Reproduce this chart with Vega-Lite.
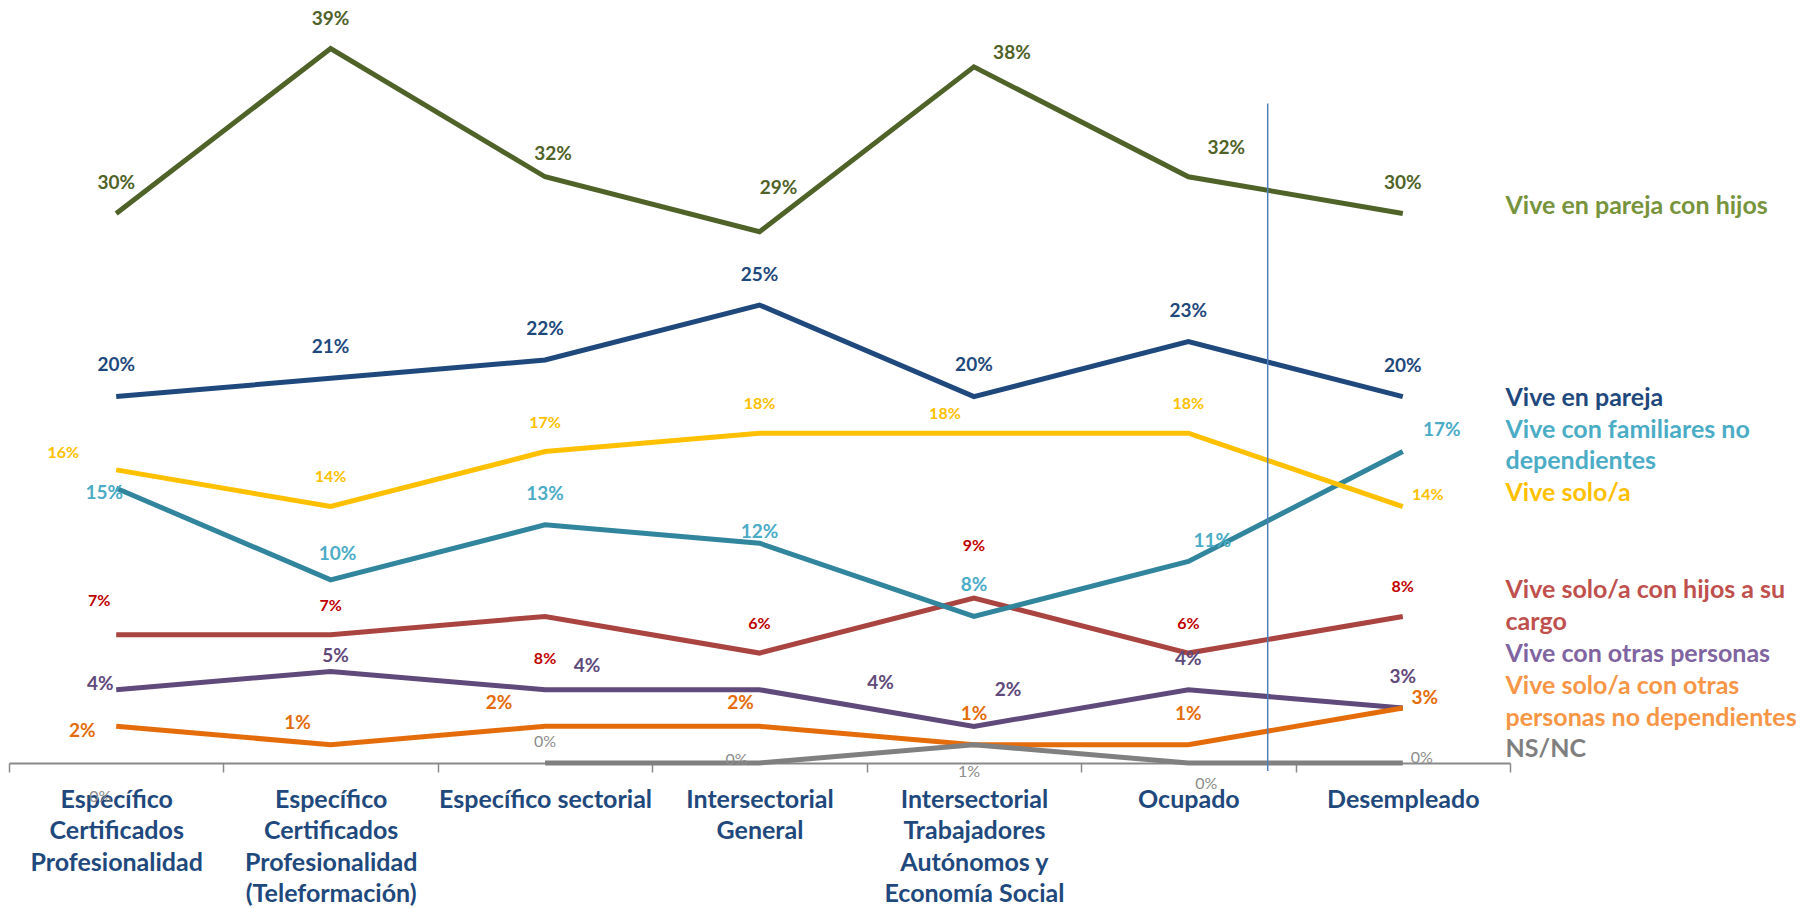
{
  "$schema": "https://vega.github.io/schema/vega-lite/v6.json",
  "width": 1501,
  "height": 763,
  "autosize": {"type": "none"},
  "padding": {"left": 9, "right": 303, "top": 0, "bottom": 145},
  "background": "white",
  "config": {"view": {"stroke": null}, "font": "Lato"},
  "datasets": {
    "datos": [
      {"categoria": "Específico Certificados Profesionalidad", "serie": "Vive en pareja con hijos", "valor": 0.30},
      {"categoria": "Específico Certificados Profesionalidad (Teleformación)", "serie": "Vive en pareja con hijos", "valor": 0.39},
      {"categoria": "Específico sectorial", "serie": "Vive en pareja con hijos", "valor": 0.32},
      {"categoria": "Intersectorial General", "serie": "Vive en pareja con hijos", "valor": 0.29},
      {"categoria": "Intersectorial Trabajadores Autónomos y Economía Social", "serie": "Vive en pareja con hijos", "valor": 0.38},
      {"categoria": "Ocupado", "serie": "Vive en pareja con hijos", "valor": 0.32},
      {"categoria": "Desempleado", "serie": "Vive en pareja con hijos", "valor": 0.30},

      {"categoria": "Específico Certificados Profesionalidad", "serie": "Vive en pareja", "valor": 0.20},
      {"categoria": "Específico Certificados Profesionalidad (Teleformación)", "serie": "Vive en pareja", "valor": 0.21},
      {"categoria": "Específico sectorial", "serie": "Vive en pareja", "valor": 0.22},
      {"categoria": "Intersectorial General", "serie": "Vive en pareja", "valor": 0.25},
      {"categoria": "Intersectorial Trabajadores Autónomos y Economía Social", "serie": "Vive en pareja", "valor": 0.20},
      {"categoria": "Ocupado", "serie": "Vive en pareja", "valor": 0.23},
      {"categoria": "Desempleado", "serie": "Vive en pareja", "valor": 0.20},

      {"categoria": "Específico Certificados Profesionalidad", "serie": "Vive solo/a con hijos a su cargo", "valor": 0.07},
      {"categoria": "Específico Certificados Profesionalidad (Teleformación)", "serie": "Vive solo/a con hijos a su cargo", "valor": 0.07},
      {"categoria": "Específico sectorial", "serie": "Vive solo/a con hijos a su cargo", "valor": 0.08},
      {"categoria": "Intersectorial General", "serie": "Vive solo/a con hijos a su cargo", "valor": 0.06},
      {"categoria": "Intersectorial Trabajadores Autónomos y Economía Social", "serie": "Vive solo/a con hijos a su cargo", "valor": 0.09},
      {"categoria": "Ocupado", "serie": "Vive solo/a con hijos a su cargo", "valor": 0.06},
      {"categoria": "Desempleado", "serie": "Vive solo/a con hijos a su cargo", "valor": 0.08},

      {"categoria": "Específico Certificados Profesionalidad", "serie": "Vive con familiares no dependientes", "valor": 0.15},
      {"categoria": "Específico Certificados Profesionalidad (Teleformación)", "serie": "Vive con familiares no dependientes", "valor": 0.10},
      {"categoria": "Específico sectorial", "serie": "Vive con familiares no dependientes", "valor": 0.13},
      {"categoria": "Intersectorial General", "serie": "Vive con familiares no dependientes", "valor": 0.12},
      {"categoria": "Intersectorial Trabajadores Autónomos y Economía Social", "serie": "Vive con familiares no dependientes", "valor": 0.08},
      {"categoria": "Ocupado", "serie": "Vive con familiares no dependientes", "valor": 0.11},
      {"categoria": "Desempleado", "serie": "Vive con familiares no dependientes", "valor": 0.17},

      {"categoria": "Específico Certificados Profesionalidad", "serie": "Vive solo/a", "valor": 0.16},
      {"categoria": "Específico Certificados Profesionalidad (Teleformación)", "serie": "Vive solo/a", "valor": 0.14},
      {"categoria": "Específico sectorial", "serie": "Vive solo/a", "valor": 0.17},
      {"categoria": "Intersectorial General", "serie": "Vive solo/a", "valor": 0.18},
      {"categoria": "Intersectorial Trabajadores Autónomos y Economía Social", "serie": "Vive solo/a", "valor": 0.18},
      {"categoria": "Ocupado", "serie": "Vive solo/a", "valor": 0.18},
      {"categoria": "Desempleado", "serie": "Vive solo/a", "valor": 0.14},

      {"categoria": "Específico Certificados Profesionalidad", "serie": "Vive con otras personas", "valor": 0.04},
      {"categoria": "Específico Certificados Profesionalidad (Teleformación)", "serie": "Vive con otras personas", "valor": 0.05},
      {"categoria": "Específico sectorial", "serie": "Vive con otras personas", "valor": 0.04},
      {"categoria": "Intersectorial General", "serie": "Vive con otras personas", "valor": 0.04},
      {"categoria": "Intersectorial Trabajadores Autónomos y Economía Social", "serie": "Vive con otras personas", "valor": 0.02},
      {"categoria": "Ocupado", "serie": "Vive con otras personas", "valor": 0.04},
      {"categoria": "Desempleado", "serie": "Vive con otras personas", "valor": 0.03},

      {"categoria": "Específico Certificados Profesionalidad", "serie": "Vive solo/a con otras personas no dependientes", "valor": 0.02},
      {"categoria": "Específico Certificados Profesionalidad (Teleformación)", "serie": "Vive solo/a con otras personas no dependientes", "valor": 0.01},
      {"categoria": "Específico sectorial", "serie": "Vive solo/a con otras personas no dependientes", "valor": 0.02},
      {"categoria": "Intersectorial General", "serie": "Vive solo/a con otras personas no dependientes", "valor": 0.02},
      {"categoria": "Intersectorial Trabajadores Autónomos y Economía Social", "serie": "Vive solo/a con otras personas no dependientes", "valor": 0.01},
      {"categoria": "Ocupado", "serie": "Vive solo/a con otras personas no dependientes", "valor": 0.01},
      {"categoria": "Desempleado", "serie": "Vive solo/a con otras personas no dependientes", "valor": 0.03},

      {"categoria": "Específico Certificados Profesionalidad", "serie": "NS/NC", "valor": 0.0},
      {"categoria": "Específico Certificados Profesionalidad (Teleformación)", "serie": "NS/NC", "valor": null},
      {"categoria": "Específico sectorial", "serie": "NS/NC", "valor": 0.0},
      {"categoria": "Intersectorial General", "serie": "NS/NC", "valor": 0.0},
      {"categoria": "Intersectorial Trabajadores Autónomos y Economía Social", "serie": "NS/NC", "valor": 0.01},
      {"categoria": "Ocupado", "serie": "NS/NC", "valor": 0.0},
      {"categoria": "Desempleado", "serie": "NS/NC", "valor": 0.0}
    ],
    "leyenda": [
      {"serie": "Vive en pareja con hijos", "etiqueta": "Vive en pareja con hijos", "y_etiqueta": 0.304},
      {"serie": "Vive en pareja", "etiqueta": "Vive en pareja", "y_etiqueta": 0.1992},
      {"serie": "Vive con familiares no dependientes", "etiqueta": "Vive con familiares no\ndependientes", "y_etiqueta": 0.1818},
      {"serie": "Vive solo/a", "etiqueta": "Vive solo/a", "y_etiqueta": 0.1474},
      {"serie": "Vive solo/a con hijos a su cargo", "etiqueta": "Vive solo/a con hijos a su\ncargo", "y_etiqueta": 0.0944},
      {"serie": "Vive con otras personas", "etiqueta": "Vive con otras personas", "y_etiqueta": 0.0595},
      {"serie": "Vive solo/a con otras personas no dependientes", "etiqueta": "Vive solo/a con otras\npersonas no dependientes", "y_etiqueta": 0.042},
      {"serie": "NS/NC", "etiqueta": "NS/NC", "y_etiqueta": 0.0076}
    ],
    "separador": [
      {"posicion": 5.37, "desde": 0.36, "hasta": -0.0044}
    ]
  },
  "layer": [
    {
      "data": {"name": "datos"},
      "mark": {"type": "line", "strokeWidth": 5, "strokeCap": "butt", "strokeJoin": "miter", "invalid": "break-paths-show-domains"},
      "encoding": {
        "x": {
          "field": "categoria", "type": "nominal",
          "scale": {"type": "band", "paddingInner": 0, "paddingOuter": 0,
            "domain": ["Específico Certificados Profesionalidad", "Específico Certificados Profesionalidad (Teleformación)", "Específico sectorial", "Intersectorial General", "Intersectorial Trabajadores Autónomos y Economía Social", "Ocupado", "Desempleado"]},
          "axis": {
            "title": null,
            "domainColor": "#898989", "domainWidth": 2,
            "ticks": true, "tickBand": "extent", "tickSize": 9, "tickColor": "#898989", "tickWidth": 1.5,
            "labelFont": "Lato", "labelFontSize": 25, "labelFontWeight": "bold", "labelColor": "#1F497D",
            "labelLineHeight": 31.6, "labelPadding": 15, "labelLimit": 400, "labelAngle": 0,
            "labelBaseline": "top", "labelOverlap": false,
            "labelExpr": "datum.value == 'Específico Certificados Profesionalidad' ? ['Específico', 'Certificados', 'Profesionalidad'] : datum.value == 'Específico Certificados Profesionalidad (Teleformación)' ? ['Específico', 'Certificados', 'Profesionalidad', '(Teleformación)'] : datum.value == 'Intersectorial General' ? ['Intersectorial', 'General'] : datum.value == 'Intersectorial Trabajadores Autónomos y Economía Social' ? ['Intersectorial', 'Trabajadores', 'Autónomos y', 'Economía Social'] : datum.label"
          }
        },
        "y": {"field": "valor", "type": "quantitative", "scale": {"domain": [0, 0.4165], "nice": false, "zero": false}, "axis": null},
        "stroke": {
          "field": "serie", "type": "nominal", "legend": null,
          "scale": {
            "domain": ["Vive en pareja con hijos", "Vive en pareja", "Vive con familiares no dependientes", "Vive solo/a", "Vive solo/a con hijos a su cargo", "Vive con otras personas", "Vive solo/a con otras personas no dependientes", "NS/NC"],
            "range": ["#4F6228", "#1F497D", "#31859C", "#FFC000", "#A94441", "#604A7B", "#E46C0A", "#808080"]
          }
        }
      }
    },
    {
      "data": {"name": "datos"},
      "transform": [
        {"filter": "datum.valor != null"},
        {"calculate": "indexof(['Específico Certificados Profesionalidad', 'Específico Certificados Profesionalidad (Teleformación)', 'Específico sectorial', 'Intersectorial General', 'Intersectorial Trabajadores Autónomos y Economía Social', 'Ocupado', 'Desempleado'], datum.categoria)", "as": "i"}
      ],
      "mark": {
        "type": "text", "font": "Lato", "align": "center", "baseline": "middle",
        "fontWeight": {"expr": "datum.serie == 'NS/NC' ? 'normal' : 'bold'"},
        "fontSize": {"expr": "datum.serie == 'Vive solo/a' || datum.serie == 'Vive solo/a con hijos a su cargo' || datum.serie == 'NS/NC' ? 16 : 19"},
        "dx": {"expr": "datum.serie == 'Vive en pareja con hijos' ? [0,0,8,19,38,38,0][datum.i] : datum.serie == 'Vive con familiares no dependientes' ? [-12,7,0,0,0,24,39][datum.i] : datum.serie == 'Vive solo/a' ? [-53,0,0,0,-29,0,25][datum.i] : datum.serie == 'Vive solo/a con hijos a su cargo' ? [-17,0,0,0,0,0,0][datum.i] : datum.serie == 'Vive con otras personas' ? [-16,5,42,121,34,0,0][datum.i] : datum.serie == 'Vive solo/a con otras personas no dependientes' ? [-34,-33,-46,-19,0,0,22][datum.i] : datum.serie == 'NS/NC' ? [-16,0,0,-23,-5,18,19][datum.i] : 0"},
        "dy": {"expr": "datum.serie == 'Vive en pareja con hijos' ? [-30,-30,-23,-44,-14,-29,-30][datum.i] : datum.serie == 'Vive en pareja' ? [-32,-31,-31,-30,-32,-31,-31][datum.i] : datum.serie == 'Vive con familiares no dependientes' ? [5,-26,-31,-11,-31,-20,-22][datum.i] : datum.serie == 'Vive solo/a' ? [-17,-30,-29,-29,-19,-29,-12][datum.i] : datum.serie == 'Vive solo/a con hijos a su cargo' ? [-34,-29,43,-29,-52,-29,-29][datum.i] : datum.serie == 'Vive con otras personas' ? [-6,-15,-24,-7,-36,-31,-31][datum.i] : datum.serie == 'Vive solo/a con otras personas no dependientes' ? [5,-22,-23,-23,-31,-31,-10][datum.i] : [34,0,-21,-3,27,21,-5][datum.i]"}
      },
      "encoding": {
        "x": {
          "field": "categoria", "type": "nominal", "axis": null,
          "scale": {"type": "band", "paddingInner": 0, "paddingOuter": 0,
            "domain": ["Específico Certificados Profesionalidad", "Específico Certificados Profesionalidad (Teleformación)", "Específico sectorial", "Intersectorial General", "Intersectorial Trabajadores Autónomos y Economía Social", "Ocupado", "Desempleado"]}
        },
        "y": {"field": "valor", "type": "quantitative", "scale": {"domain": [0, 0.4165], "nice": false, "zero": false}, "axis": null},
        "text": {"field": "valor", "type": "quantitative", "format": ".0%"},
        "fill": {
          "field": "serie", "type": "nominal", "legend": null,
          "scale": {
            "domain": ["Vive en pareja con hijos", "Vive en pareja", "Vive con familiares no dependientes", "Vive solo/a", "Vive solo/a con hijos a su cargo", "Vive con otras personas", "Vive solo/a con otras personas no dependientes", "NS/NC"],
            "range": ["#4F6228", "#1F497D", "#4BACC6", "#FFC000", "#C00000", "#604A7B", "#E46C0A", "#8C8C8C"]
          }
        }
      }
    },
    {
      "data": {"name": "separador"},
      "mark": {"type": "rule", "color": "#4F81BD", "strokeWidth": 1.5},
      "encoding": {
        "x": {"field": "posicion", "type": "quantitative", "axis": null, "scale": {"domain": [-0.5, 6.5], "nice": false, "zero": false}},
        "y": {"field": "desde", "type": "quantitative", "scale": {"domain": [0, 0.4165], "nice": false, "zero": false}, "axis": null},
        "y2": {"field": "hasta"}
      }
    },
    {
      "data": {"name": "leyenda"},
      "mark": {"type": "text", "font": "Lato", "fontWeight": "bold", "fontSize": 25, "align": "left", "baseline": "middle", "lineBreak": "\n", "lineHeight": 31.5, "dx": -4.5},
      "encoding": {
        "x": {"datum": 6.5, "type": "quantitative", "axis": null, "scale": {"domain": [-0.5, 6.5], "nice": false, "zero": false}},
        "y": {"field": "y_etiqueta", "type": "quantitative", "scale": {"domain": [0, 0.4165], "nice": false, "zero": false}, "axis": null},
        "text": {"field": "etiqueta"},
        "color": {
          "field": "serie", "type": "nominal", "legend": null,
          "scale": {
            "domain": ["Vive en pareja con hijos", "Vive en pareja", "Vive con familiares no dependientes", "Vive solo/a", "Vive solo/a con hijos a su cargo", "Vive con otras personas", "Vive solo/a con otras personas no dependientes", "NS/NC"],
            "range": ["#77933C", "#1F497D", "#4BACC6", "#FFC000", "#C0504D", "#8064A2", "#F79646", "#7F7F7F"]
          }
        }
      }
    }
  ],
  "resolve": {"scale": {"x": "independent"}}
}
